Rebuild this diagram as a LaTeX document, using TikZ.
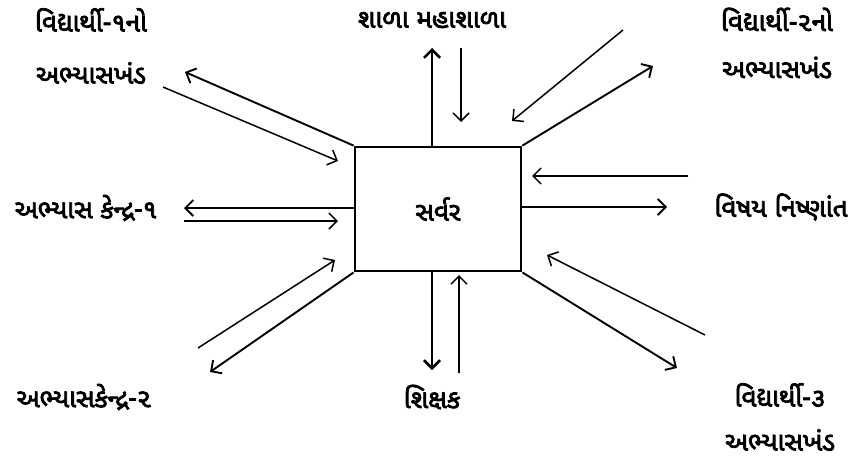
\documentclass[tikz,border=0pt]{standalone}
\usepackage{fontspec}
\newfontfamily\gujfont[Script=Gujarati, AutoFakeBold=3]{Noto Sans Gujarati UI}
\usetikzlibrary{arrows.meta, positioning}
\tikzset{
  server/.style={rectangle, draw=black, line width=2.8pt, minimum width=166pt, minimum height=124pt, font=\gujfont\bfseries\fontsize{26}{30}\selectfont},
  lbl/.style={align=center, font=\gujfont\bfseries\fontsize{26}{52}\selectfont},
  arrow/.style={line width=1.5pt, -{Straight Barb[length=8pt,width=16pt]}},
  boxarrow/.style={arrow, line width=1.9pt},
  thickarrow/.style={arrow, line width=2.6pt}
}
\begin{document}
\begin{tikzpicture}[x=1pt, y=-1pt]
            \useasboundingbox (0,0) rectangle (864,459);
            \node (srv) [server] at (438,209) {સર્વર};

            % labels
            \node (stud1) [lbl] at (91,46) {વિદ્યાર્થી-૧નો\\અભ્યાસખંડ};
            \node (school) [lbl] at (432,20) {શાળા મહાશાળા};
            \node (stud2) [lbl] at (777,43) {વિદ્યાર્થી-૨નો\\[-5pt]અભ્યાસખંડ};
            \node (centre1) [lbl] at (86,208) {અભ્યાસ કેન્દ્ર-૧};
            \node (expert) [lbl] at (781,207) {વિષય નિષ્ણાંત};
            \node (centre2) [lbl] at (84,397) {અભ્યાસકેન્દ્ર-૨};
            \node (teacher) [lbl] at (432,397) {શિક્ષક};
            \node (stud3) [lbl] at (780,417) {વિદ્યાર્થી-૩\\[-8pt]અભ્યાસખંડ};

            % free ends of the connectors
            \coordinate (schoolout) at (432,48);
            \coordinate (schoolinA) at (461,48);
            \coordinate (schoolinB) at (461,122);
            \coordinate (teachout) at (432,370);
            \coordinate (teachinA) at (459,373);
            \coordinate (teachinB) at (459,275);
            \coordinate (c1out) at (184,208);
            \coordinate (c1inA) at (184,221);
            \coordinate (c1inB) at (338,221);
            \coordinate (expinA) at (688,176);
            \coordinate (expinB) at (532,176);
            \coordinate (expout) at (667,207);
            \coordinate (s1out) at (185,72);
            \coordinate (s1inA) at (163,87);
            \coordinate (s1inB) at (338,161);
            \coordinate (s2inA) at (623,30);
            \coordinate (s2inB) at (512,121);
            \coordinate (s2out) at (653,66);
            \coordinate (c2inA) at (198,348);
            \coordinate (c2inB) at (335,260);
            \coordinate (c2out) at (210,372);
            \coordinate (s3inA) at (705,335);
            \coordinate (s3inB) at (547,255);
            \coordinate (s3out) at (677,368);

            % top and bottom
            \draw [thickarrow] (srv.north -| schoolout) -- (schoolout);
            \draw [arrow] (schoolinA) -- (schoolinB);
            \draw [thickarrow] (srv.south -| teachout) -- (teachout);
            \draw [arrow] (teachinA) -- (teachinB);
            % left and right
            \draw [boxarrow] (srv.west |- c1out) -- (c1out);
            \draw [arrow] (c1inA) -- (c1inB);
            \draw [arrow] (expinA) -- (expinB);
            \draw [boxarrow] (srv.east |- expout) -- (expout);
            % corners
            \draw [boxarrow] (srv.north west) -- (s1out);
            \draw [arrow] (s1inA) -- (s1inB);
            \draw [arrow] (s2inA) -- (s2inB);
            \draw [boxarrow] (srv.north east) -- (s2out);
            \draw [arrow] (c2inA) -- (c2inB);
            \draw [boxarrow] (srv.south west) -- (c2out);
            \draw [arrow] (s3inA) -- (s3inB);
            \draw [boxarrow] (srv.south east) -- (s3out);
\end{tikzpicture}
\end{document}
